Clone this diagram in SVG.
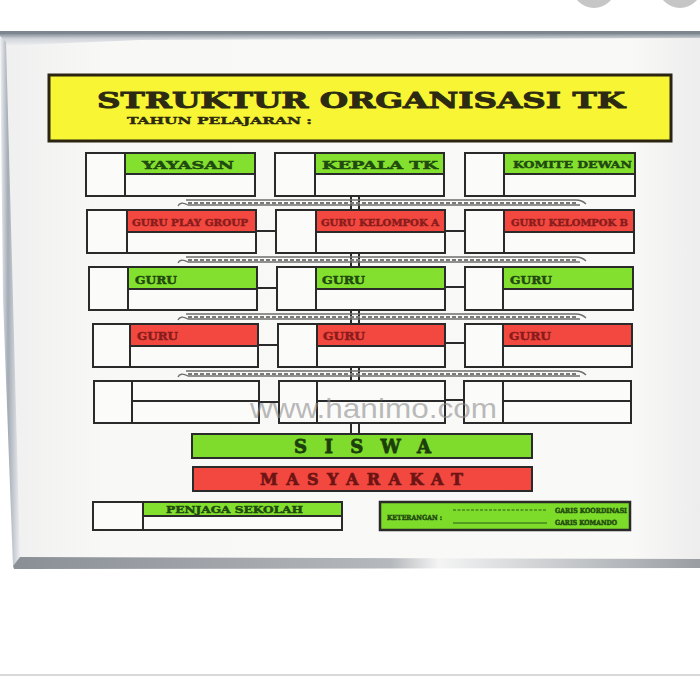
<svg xmlns="http://www.w3.org/2000/svg" width="700" height="700" viewBox="0 0 700 700">
<defs>
<linearGradient id="frameTop" x1="0" y1="0" x2="0" y2="1">
<stop offset="0" stop-color="#6f7a86"/><stop offset="0.4" stop-color="#c9ced4"/><stop offset="1" stop-color="#eef0f2"/>
</linearGradient>
<linearGradient id="frameLeft" x1="0" y1="0" x2="1" y2="0">
<stop offset="0" stop-color="#f2f3f5"/><stop offset="0.4" stop-color="#a3abb4"/><stop offset="0.75" stop-color="#cfd3d8"/><stop offset="1" stop-color="#eceef0"/>
</linearGradient>
<linearGradient id="frameBot" x1="0" y1="0" x2="1" y2="0">
<stop offset="0" stop-color="#8a8f96"/><stop offset="0.55" stop-color="#b5b8bc"/><stop offset="0.62" stop-color="#f4f4f4"/><stop offset="0.75" stop-color="#d4d6d8"/><stop offset="1" stop-color="#9a9ea3"/>
</linearGradient>
<linearGradient id="boardFill" x1="0" y1="0" x2="1" y2="0">
<stop offset="0" stop-color="#efefef"/><stop offset="0.15" stop-color="#f8f8f7"/><stop offset="0.9" stop-color="#f9f9f8"/><stop offset="1" stop-color="#ededed"/>
</linearGradient>
<style>
.box{fill:#fbfbfa;stroke:#2a2a2a;stroke-width:2}
.hg{fill:#84e02e;stroke:#2a2a2a;stroke-width:2}
.hr{fill:#f2483f;stroke:#2a2a2a;stroke-width:2}
.lbl{font-family:"DejaVu Serif","Liberation Serif",serif;font-weight:bold}
.tg{fill:#1f4a10;stroke:#1f4a10;stroke-width:0.45}
.tr{fill:#8a1c1c;stroke:#8a1c1c;stroke-width:0.45}
.band{fill:none;stroke:#6d6d6d;stroke-width:1.3}
.bandd{fill:none;stroke:#7a7a7a;stroke-width:2;stroke-dasharray:4 2}
.conn{fill:none;stroke:#2a2a2a;stroke-width:2}
</style>
</defs>

<!-- page -->
<rect x="0" y="0" width="700" height="700" fill="#ffffff"/>
<circle cx="594" cy="-14" r="22" fill="#c6c6c6"/>
<circle cx="680" cy="-14" r="22" fill="#c6c6c6"/>
<line x1="0" y1="675" x2="700" y2="675" stroke="#d9d9d9" stroke-width="2"/>

<!-- board -->
<polygon points="0,33 700,33 700,567 16,567" fill="url(#boardFill)"/>
<rect x="0" y="31" width="700" height="3" fill="#7d858e"/>
<polygon points="0,34 700,34 700,38 140,40 0,46" fill="url(#frameTop)" opacity="0.8"/>
<polygon points="0,36 6,42 20,558 13,566 3,300" fill="url(#frameLeft)"/>
<polygon points="13,566 20,557 700,559 700,568 14,569" fill="url(#frameBot)"/>

<!-- title -->
<g id="title">
<rect x="49" y="75" width="622" height="66" fill="#f8f534" stroke="#2a2410" stroke-width="3"/>
<text class="lbl" x="97" y="108" font-size="22" fill="#2c2a12" stroke="#2c2a12" stroke-width="0.9" textLength="528" lengthAdjust="spacingAndGlyphs">STRUKTUR ORGANISASI TK</text>
<text class="lbl" x="127" y="124" font-size="10" fill="#2c2a12" stroke="#2c2a12" stroke-width="0.4" textLength="185" lengthAdjust="spacingAndGlyphs">TAHUN PELAJARAN :</text>
</g>

<!-- connectors -->
<g id="connectors">
<line x1="351" y1="196" x2="351" y2="434" class="conn" stroke-width="1.6"/>
<line x1="359" y1="196" x2="359" y2="434" class="conn" stroke-width="1.6"/>
<g id="band1">
<path class="band" d="M186,200 H576 Q582,200 586,204"/><path class="band" d="M178,206 Q180,201 188,205 H580"/>
<line class="bandd" x1="188" y1="203" x2="578" y2="203"/>
</g>
<g id="band2">
<path class="band" d="M186,257 H576 Q582,257 586,261"/><path class="band" d="M178,263 Q180,258 188,262 H580"/>
<line class="bandd" x1="188" y1="260" x2="578" y2="260"/>
</g>
<g id="band3">
<path class="band" d="M186,314 H576 Q582,314 586,318"/><path class="band" d="M178,320 Q180,315 188,319 H580"/>
<line class="bandd" x1="188" y1="317" x2="578" y2="317"/>
</g>
<g id="band4">
<path class="band" d="M186,371 H576 Q582,371 586,375"/><path class="band" d="M178,377 Q180,372 188,376 H580"/>
<line class="bandd" x1="188" y1="374" x2="578" y2="374"/>
</g>
<line class="conn" x1="256" y1="231" x2="276" y2="231"/>
<line class="conn" x1="257" y1="288" x2="277" y2="288"/>
<line class="conn" x1="258" y1="345" x2="278" y2="345"/>
<line class="conn" x1="259" y1="402" x2="279" y2="402"/>
<line class="conn" x1="445" y1="231" x2="465" y2="231"/>
<line class="conn" x1="445" y1="287" x2="465" y2="287"/>
<line class="conn" x1="445" y1="343" x2="465" y2="343"/>
<line class="conn" x1="445" y1="400" x2="464" y2="400"/>
</g>

<!-- row 1 -->
<g id="yayasan">
<rect class="box" x="86" y="153" width="39" height="43"/><rect class="box" x="125" y="153" width="130" height="43"/>
<rect class="hg" x="125" y="153" width="130" height="21"/>
<text class="lbl tg" x="142" y="169" font-size="11" textLength="92" lengthAdjust="spacingAndGlyphs">YAYASAN</text>
</g>
<g id="kepala-tk">
<rect class="box" x="275" y="153" width="40" height="43"/><rect class="box" x="315" y="153" width="129" height="43"/>
<rect class="hg" x="315" y="153" width="129" height="21"/>
<text class="lbl tg" x="322" y="169" font-size="11" textLength="116" lengthAdjust="spacingAndGlyphs">KEPALA TK</text>
</g>
<g id="komite-dewan">
<rect class="box" x="465" y="153" width="39" height="43"/><rect class="box" x="504" y="153" width="131" height="43"/>
<rect class="hg" x="504" y="153" width="131" height="21"/>
<text class="lbl tg" x="513" y="168" font-size="10" textLength="119" lengthAdjust="spacingAndGlyphs">KOMITE DEWAN</text>
</g>

<!-- row 2 -->
<g id="guru-play-group">
<rect class="box" x="87" y="210" width="40" height="43"/><rect class="box" x="127" y="210" width="129" height="43"/>
<rect class="hr" x="127" y="210" width="129" height="22"/>
<text class="lbl tr" x="132" y="226" font-size="9.5" textLength="116" lengthAdjust="spacingAndGlyphs">GURU PLAY GROUP</text>
</g>
<g id="guru-kelompok-a">
<rect class="box" x="276" y="210" width="40" height="43"/><rect class="box" x="316" y="210" width="129" height="43"/>
<rect class="hr" x="316" y="210" width="129" height="22"/>
<text class="lbl tr" x="321" y="226" font-size="9.5" textLength="118" lengthAdjust="spacingAndGlyphs">GURU KELOMPOK A</text>
</g>
<g id="guru-kelompok-b">
<rect class="box" x="465" y="210" width="39" height="43"/><rect class="box" x="504" y="210" width="130" height="43"/>
<rect class="hr" x="504" y="210" width="130" height="22"/>
<text class="lbl tr" x="511" y="226" font-size="9.5" textLength="117" lengthAdjust="spacingAndGlyphs">GURU KELOMPOK B</text>
</g>

<!-- row 3 -->
<g id="guru-3a">
<rect class="box" x="89" y="267" width="39" height="43"/><rect class="box" x="128" y="267" width="129" height="43"/>
<rect class="hg" x="128" y="267" width="129" height="22"/>
<text class="lbl tg" x="135" y="284" font-size="10.5" textLength="42" lengthAdjust="spacingAndGlyphs">GURU</text>
</g>
<g id="guru-3b">
<rect class="box" x="277" y="267" width="39" height="43"/><rect class="box" x="316" y="267" width="129" height="43"/>
<rect class="hg" x="316" y="267" width="129" height="22"/>
<text class="lbl tg" x="322" y="284" font-size="10.5" textLength="43" lengthAdjust="spacingAndGlyphs">GURU</text>
</g>
<g id="guru-3c">
<rect class="box" x="465" y="267" width="38" height="43"/><rect class="box" x="503" y="267" width="130" height="43"/>
<rect class="hg" x="503" y="267" width="130" height="22"/>
<text class="lbl tg" x="510" y="284" font-size="10.5" textLength="42" lengthAdjust="spacingAndGlyphs">GURU</text>
</g>

<!-- row 4 -->
<g id="guru-4a">
<rect class="box" x="93" y="324" width="37" height="43"/><rect class="box" x="130" y="324" width="128" height="43"/>
<rect class="hr" x="130" y="324" width="128" height="22"/>
<text class="lbl tr" x="137" y="340" font-size="10.5" textLength="41" lengthAdjust="spacingAndGlyphs">GURU</text>
</g>
<g id="guru-4b">
<rect class="box" x="278" y="324" width="39" height="43"/><rect class="box" x="317" y="324" width="128" height="43"/>
<rect class="hr" x="317" y="324" width="128" height="22"/>
<text class="lbl tr" x="323" y="340" font-size="10.5" textLength="42" lengthAdjust="spacingAndGlyphs">GURU</text>
</g>
<g id="guru-4c">
<rect class="box" x="465" y="324" width="38" height="43"/><rect class="box" x="503" y="324" width="129" height="43"/>
<rect class="hr" x="503" y="324" width="129" height="22"/>
<text class="lbl tr" x="509" y="340" font-size="10.5" textLength="42" lengthAdjust="spacingAndGlyphs">GURU</text>
</g>

<!-- row 5 -->
<g id="blank-5a">
<rect class="box" x="94" y="381" width="38" height="42"/><rect class="box" x="132" y="381" width="127" height="42"/>
<line class="conn" x1="132" y1="401" x2="259" y2="401"/>
</g>
<g id="blank-5b">
<rect class="box" x="279" y="381" width="38" height="42"/><rect class="box" x="317" y="381" width="128" height="42"/>
<line class="conn" x1="317" y1="401" x2="445" y2="401"/>
</g>
<g id="blank-5c">
<rect class="box" x="464" y="381" width="39" height="42"/><rect class="box" x="503" y="381" width="128" height="42"/>
<line class="conn" x1="503" y1="401" x2="631" y2="401"/>
</g>

<!-- watermark -->
<text x="250" y="418" font-family="Liberation Sans, Arial, sans-serif" font-size="28" fill="#8c8c8c" fill-opacity="0.6" textLength="247" lengthAdjust="spacingAndGlyphs">www.hanimo.com</text>

<!-- bottom bars -->
<g id="siswa">
<rect x="192" y="434" width="340" height="24" fill="#7fdc2c" stroke="#2a2a2a" stroke-width="2"/>
<text class="lbl" x="294" y="453" font-size="18" fill="#1c3e0c" stroke="#1c3e0c" stroke-width="0.8" textLength="137" lengthAdjust="spacing">SISWA</text>
</g>
<g id="masyarakat">
<rect x="193" y="467" width="339" height="24" fill="#f2483f" stroke="#2a2a2a" stroke-width="2"/>
<text class="lbl" x="260" y="485" font-size="16" fill="#6e1414" stroke="#6e1414" stroke-width="0.7" textLength="203" lengthAdjust="spacing">MASYARAKAT</text>
</g>
<g id="penjaga-sekolah">
<rect class="box" x="93" y="502" width="50" height="28"/><rect class="box" x="143" y="502" width="199" height="28"/>
<rect class="hg" x="143" y="502" width="199" height="14"/>
<text class="lbl tg" x="166" y="513" font-size="9.5" textLength="137" lengthAdjust="spacingAndGlyphs">PENJAGA SEKOLAH</text>
</g>
<g id="keterangan">
<rect x="380" y="502" width="250" height="28" fill="#7ddc2a" stroke="#2a2a2a" stroke-width="2.5"/>
<text class="lbl tg" x="387" y="520" font-size="7" textLength="55" lengthAdjust="spacingAndGlyphs">KETERANGAN :</text>
<line x1="453" y1="510" x2="547" y2="510" stroke="#2a5a18" stroke-width="1" stroke-dasharray="3 1.5"/>
<line x1="453" y1="523" x2="547" y2="523" stroke="#2a5a18" stroke-width="1.2"/>
<text class="lbl tg" x="555" y="513" font-size="7" textLength="72" lengthAdjust="spacingAndGlyphs">GARIS KOORDINASI</text>
<text class="lbl tg" x="555" y="525" font-size="7" textLength="62" lengthAdjust="spacingAndGlyphs">GARIS KOMANDO</text>
</g>
</svg>
